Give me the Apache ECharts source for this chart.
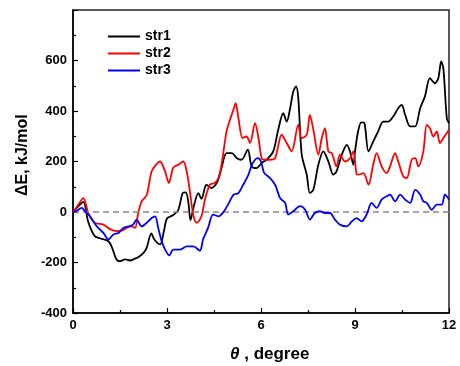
<!DOCTYPE html>
<html>
<head>
<meta charset="utf-8">
<script src="https://cdn.jsdelivr.net/npm/echarts@6/dist/echarts.min.js"></script>
<style>
  html, body { margin: 0; padding: 0; background: #fff; }
  #chart { width: 460px; height: 366px; }
</style>
</head>
<body>
<div id="chart"></div>
<script>
// Rotation angle (degree) and energy change (kJ/mol) for three structures
const thetaStr1 = [0, 0.15, 0.33, 0.48, 0.6, 0.7, 0.86, 0.97, 1.13, 1.23, 1.39, 1.5, 1.66, 1.82, 1.97, 2.08, 2.25, 2.35, 2.5, 2.6, 2.78, 2.9, 3.0, 3.2, 3.36, 3.5, 3.6, 3.68, 3.75, 3.85, 4.0, 4.1, 4.26, 4.42, 4.59, 4.74, 4.9, 5.07, 5.23, 5.38, 5.58, 5.7, 5.86, 6.02, 6.18, 6.39, 6.55, 6.71, 6.82, 6.93, 7.03, 7.12, 7.19, 7.3, 7.46, 7.56, 7.67, 7.83, 7.99, 8.15, 8.31, 8.41, 8.58, 8.74, 8.84, 8.95, 9.0, 9.1, 9.2, 9.3, 9.43, 9.58, 9.74, 9.9, 10.06, 10.22, 10.38, 10.49, 10.6, 10.76, 10.92, 11.08, 11.23, 11.39, 11.55, 11.66, 11.75, 11.82, 11.93, 12.0];
const eStr1 = [0, 20, 40, -37, -76, -96, -104, -108, -116, -136, -188, -195, -188, -192, -185, -179, -162, -142, -85, -110, -128, -76, -26, -12, 8, 75, 78, 40, -32, 20, 75, 52, 108, 95, 115, 174, 233, 233, 213, 207, 247, 181, 174, 194, 207, 240, 326, 391, 358, 411, 477, 497, 451, 227, 148, 75, 88, 187, 240, 200, 148, 161, 227, 266, 240, 187, 240, 320, 355, 352, 240, 279, 319, 358, 358, 378, 411, 424, 385, 339, 339, 411, 457, 530, 510, 530, 596, 569, 372, 352];

const thetaStr2 = [0, 0.15, 0.33, 0.49, 0.7, 0.97, 1.18, 1.39, 1.55, 1.71, 1.87, 1.98, 2.08, 2.19, 2.35, 2.51, 2.67, 2.78, 2.94, 3.06, 3.2, 3.36, 3.52, 3.63, 3.73, 3.84, 3.95, 4.1, 4.21, 4.37, 4.53, 4.64, 4.74, 4.9, 5.01, 5.12, 5.19, 5.28, 5.41, 5.54, 5.65, 5.81, 5.92, 6.02, 6.13, 6.29, 6.45, 6.66, 6.82, 6.98, 7.19, 7.3, 7.46, 7.56, 7.67, 7.83, 7.94, 8.04, 8.15, 8.26, 8.41, 8.52, 8.68, 8.84, 8.95, 9.05, 9.11, 9.27, 9.43, 9.58, 9.69, 9.85, 10.01, 10.12, 10.28, 10.38, 10.54, 10.65, 10.81, 10.92, 11.02, 11.18, 11.29, 11.39, 11.5, 11.61, 11.71, 11.82, 12.0];
const eStr2 = [0, 25, 55, -4, -43, -50, -68, -76, -74, -63, -57, -63, -5, 42, 66, 161, 190, 200, 160, 115, 176, 187, 200, 160, 82, -12, -43, -17, 49, 108, 115, 134, 187, 319, 365, 405, 431, 372, 293, 299, 273, 352, 293, 213, 207, 207, 213, 306, 273, 240, 345, 293, 306, 385, 326, 227, 293, 332, 240, 233, 181, 227, 200, 213, 240, 150, 148, 154, 108, 187, 233, 181, 154, 181, 233, 200, 141, 134, 207, 213, 181, 240, 345, 332, 299, 319, 273, 293, 326];

const thetaStr3 = [0, 0.12, 0.28, 0.38, 0.54, 0.76, 0.97, 1.13, 1.29, 1.45, 1.61, 1.77, 1.92, 2.03, 2.19, 2.35, 2.51, 2.62, 2.72, 2.83, 2.94, 3.07, 3.2, 3.42, 3.63, 3.84, 4.05, 4.15, 4.31, 4.47, 4.64, 4.8, 4.96, 5.12, 5.28, 5.44, 5.59, 5.7, 5.81, 5.9, 6.0, 6.1, 6.29, 6.45, 6.61, 6.77, 6.87, 7.03, 7.25, 7.41, 7.56, 7.72, 7.88, 8.04, 8.2, 8.36, 8.52, 8.74, 8.9, 9.05, 9.21, 9.37, 9.53, 9.69, 9.85, 10.01, 10.12, 10.28, 10.44, 10.6, 10.76, 10.92, 11.08, 11.18, 11.29, 11.45, 11.61, 11.77, 11.87, 12.0];
const eStr3 = [0, 5, 16, 3, -17, -57, -83, -109, -89, -83, -63, -57, -50, -30, -57, -43, -24, -17, -63, -116, -149, -172, -149, -149, -136, -136, -153, -109, -63, -10, -17, 0, 32, 68, 75, 110, 145, 184, 207, 213, 200, 155, 134, 108, 55, 36, -10, 3, 23, 9, -30, -4, 3, -4, -4, -30, -50, -57, -37, -24, -37, -10, 36, 16, 49, 62, 69, 42, 69, 49, 36, 88, 69, 42, 36, 9, 29, 29, 69, 49];

const seriesNames = ['str1', 'str2', 'str3'];
const seriesColors = ['#000000', '#ff0000', '#0000ff'];
const xTicks = [0, 3, 6, 9, 12];
const yTickLabels = [-400, -200, 0, 200, 400, 600];

const zip = (xs, ys) => xs.map((x, i) => [x, ys[i]]);
const allData = [zip(thetaStr1, eStr1), zip(thetaStr2, eStr2), zip(thetaStr3, eStr3)];

const FONT = '"Liberation Sans", Arial, sans-serif';
const chart = echarts.init(document.getElementById('chart'), null, { renderer: 'canvas' });

const axisCommon = {
  axisLine: { show: true, onZero: false, lineStyle: { color: '#000', width: 1.5 } },
  axisTick: { show: true, inside: true, length: 5, lineStyle: { color: '#000', width: 1.2 } },
  minorTick: { show: true, splitNumber: 2, length: 3, lineStyle: { color: '#000', width: 1.2 } },
  splitLine: { show: false },
  axisLabel: { color: '#000', fontFamily: FONT, fontWeight: 'bold', fontSize: 13 }
};

chart.setOption({
  animation: false,
  backgroundColor: '#fff',
  grid: {
    left: 73, right: 11, top: 10, bottom: 53,
    show: true, borderColor: '#222', borderWidth: 1.5, backgroundColor: 'transparent'
  },
  legend: {
    orient: 'vertical',
    left: 103, top: 23,
    icon: 'rect',
    itemWidth: 32, itemHeight: 2,
    itemGap: 0,
    data: seriesNames,
    textStyle: { color: '#000', fontFamily: FONT, fontWeight: 'bold', fontSize: 14, lineHeight: 17 }
  },
  xAxis: Object.assign({}, axisCommon, {
    type: 'value', min: xTicks[0], max: xTicks[xTicks.length - 1], interval: 3,
    axisLabel: Object.assign({}, axisCommon.axisLabel, { margin: 6 })
  }),
  yAxis: Object.assign({}, axisCommon, {
    type: 'value', min: -400, max: 800, interval: 200,
    axisLabel: Object.assign({}, axisCommon.axisLabel, {
      margin: 6,
      formatter: v => (yTickLabels.indexOf(v) >= 0 ? String(v) : '')
    })
  }),
  graphic: [
    {
      type: 'text', left: 230, top: 346,
      style: {
        text: '{i|θ} , degree',
        fill: '#000',
        font: 'bold 17px ' + FONT,
        rich: { i: { fontStyle: 'italic', fontWeight: 'bold', fontSize: 17, fontFamily: FONT } }
      }
    },
    {
      type: 'text', x: 15, y: 196, rotation: Math.PI / 2,
      style: { text: 'ΔE, kJ/mol', fill: '#000', font: 'bold 16px ' + FONT }
    }
  ],
  series: seriesNames.map((name, i) => {
    const s = {
      name: name,
      type: 'line',
      data: allData[i],
      showSymbol: false,
      symbol: 'none',
      smooth: 0.3,
      lineStyle: { color: seriesColors[i], width: 1.8 },
      itemStyle: { color: seriesColors[i] },
      z: 3 + i
    };
    if (i === 0) {
      // dashed reference line at ΔE = 0
      s.markLine = {
        silent: true, symbol: ['none', 'none'], label: { show: false },
        emphasis: { disabled: true },
        lineStyle: { color: '#888888', type: [6, 4], width: 1.5, opacity: 1 },
        data: [{ yAxis: 0 }]
      };
    }
    return s;
  })
});
</script>
</body>
</html>
